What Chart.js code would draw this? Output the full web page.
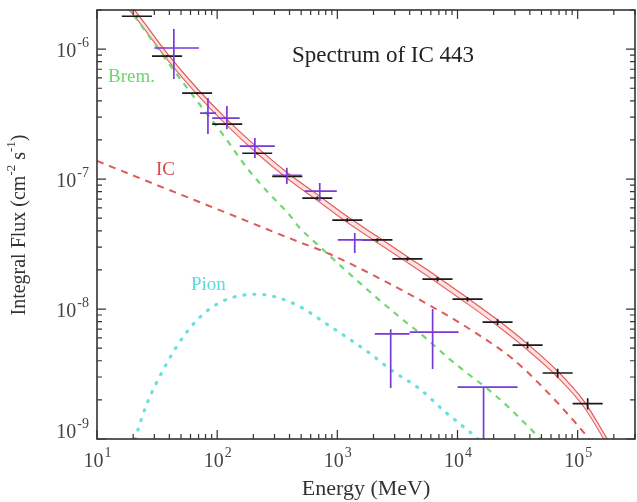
<!DOCTYPE html>
<html><head><meta charset="utf-8">
<script src="https://cdn.jsdelivr.net/npm/chart.js@4.4.1/dist/chart.umd.min.js"></script>
<style>html,body{margin:0;padding:0;background:#fff;overflow:hidden}</style>
</head><body>
<canvas id="c" width="637" height="502"></canvas>
<script>
// ---- axis ranges / tick labels ----
const xMin = 10, xMax = 3e5, yMin = 1e-9, yMax = 2e-6;
const xDecades = [1, 2, 3, 4, 5];
const yDecades = [-9, -8, -7, -6];

// ---- black data (energy bins) ----
const binEdges = [16.1, 28.7, 51.1, 90.8, 161.6, 287, 511, 908, 1616, 2873, 5109, 9085, 16156, 28730, 51090, 90850, 161560];
const blackE = [21.5, 38.3, 68.1, 121, 215, 383, 681, 1211, 2154, 3831, 6813, 12115, 21544, 38312, 68129, 121153];
const blackF = [1.79e-6, 8.84e-7, 4.59e-7, 2.65e-7, 1.58e-7, 1.05e-7, 7.14e-8, 4.84e-8, 3.40e-8, 2.43e-8, 1.70e-8, 1.19e-8, 7.94e-9, 5.28e-9, 3.22e-9, 1.87e-9];
const blackErr = [0.02, 0.02, 0.02, 0.02, 0.02, 0.02, 0.03, 0.03, 0.03, 0.03, 0.04, 0.04, 0.05, 0.06, 0.08, 0.1];

// ---- purple data ----
const pE   = [43.6, 83.8, 120.5, 206, 380, 714, 1396, 2780, 6210, 16480];
const pELo = [30, 72, 91, 154, 290, 535, 1007, 2048, 4000, 10000];
const pEHi = [70.5, 98, 154, 302, 506, 989, 1932, 4000, 10200, 31600];
const pF   = [1.02e-6, 3.22e-7, 2.94e-7, 1.79e-7, 1.07e-7, 8.09e-8, 3.40e-8, 6.43e-9, 6.65e-9, 2.51e-9];
const pFLo = [5.88e-7, 2.22e-7, 2.42e-7, 1.45e-7, 9.16e-8, 6.78e-8, 2.70e-8, 2.47e-9, 3.45e-9, 5e-10];
const pFHi = [1.43e-6, 4.2e-7, 3.65e-7, 2.07e-7, 1.22e-7, 9.31e-8, 3.84e-8, 7.0e-9, 1.0e-8, 2.51e-9];

// ---- total model band ----
const totE  = [15, 19.9, 38.2, 67.8, 120, 214, 379, 674, 1197, 2128, 3777, 6700, 11900, 21100, 37500, 66700, 114000, 173000, 202000];
const totHi = [2.75e-6, 2.07e-6, 9.32e-7, 5.0e-7, 2.89e-7, 1.76e-7, 1.13e-7, 7.66e-8, 5.19e-8, 3.64e-8, 2.55e-8, 1.79e-8, 1.23e-8, 8.37e-9, 5.47e-9, 3.39e-9, 1.93e-9, 1.03e-9, 8.2e-10];
const totLo = [2.47e-6, 1.86e-6, 8.39e-7, 4.51e-7, 2.6e-7, 1.58e-7, 1.02e-7, 6.9e-8, 4.67e-8, 3.27e-8, 2.3e-8, 1.61e-8, 1.11e-8, 7.53e-9, 4.92e-9, 3.05e-9, 1.74e-9, 9.3e-10, 7.4e-10];

// ---- components ----
const bremE = [15, 19.9, 38.2, 67.8, 111, 177, 259, 394, 487, 636, 1268, 2128, 3304, 5540, 8600, 22400, 39700, 53000];
const bremF = [2.5e-6, 1.85e-6, 8.1e-7, 4.0e-7, 2.22e-7, 1.22e-7, 8.09e-8, 5.38e-8, 4.2e-8, 3.33e-8, 1.86e-8, 1.22e-8, 8.67e-9, 5.9e-9, 4.12e-9, 2.03e-9, 1.22e-9, 9.3e-10];
const icE = [10, 26.0, 67.8, 177, 460, 865, 2478, 7100, 12600, 28200, 48100, 110000, 138000];
const icF = [1.38e-7, 9.66e-8, 6.78e-8, 4.75e-8, 3.33e-8, 2.65e-8, 1.64e-8, 9.66e-9, 7.02e-9, 4.2e-9, 2.65e-9, 1.15e-9, 8.8e-10];
const pionE = [19, 20.7, 26.0, 33.4, 46.3, 69.2, 111, 214, 426, 915, 1755, 2890, 4840, 8110, 11000, 14400, 16800];
const pionF = [7e-10, 9.8e-10, 1.86e-9, 3.05e-9, 5.19e-9, 8.37e-9, 1.15e-8, 1.30e-8, 1.11e-8, 7.14e-9, 4.75e-9, 3.33e-9, 2.43e-9, 1.58e-9, 1.26e-9, 1.02e-9, 8.7e-10];

const pts = (xs, ys) => xs.map((v, i) => ({x: v, y: ys[i]}));
const SERIF = '"Liberation Serif", "DejaVu Serif", serif';

function supText(ctx, base, exp, x, y, align, bSize, eSize, color) {
  ctx.fillStyle = color;
  ctx.textBaseline = 'middle';
  ctx.textAlign = 'left';
  ctx.font = bSize + 'px ' + SERIF;
  const wb = ctx.measureText(base).width;
  ctx.font = eSize + 'px ' + SERIF;
  const we = ctx.measureText(exp).width;
  let sx = align === 'center' ? x - (wb + we) / 2 : (align === 'right' ? x - wb - we : x);
  ctx.font = bSize + 'px ' + SERIF;
  ctx.fillText(base, sx, y);
  ctx.font = eSize + 'px ' + SERIF;
  ctx.fillText(exp, sx + wb + 1, y - bSize * 0.42);
}

const deco = {
  id: 'deco',
  afterDatasetsDraw(chart) {
    const {ctx, chartArea: a, scales: {x, y}} = chart;
    ctx.save();
    ctx.beginPath(); ctx.rect(a.left, a.top, a.right - a.left, a.bottom - a.top); ctx.clip();
    // black bins
    ctx.strokeStyle = '#1a1a1a'; ctx.lineWidth = 1.7;
    blackE.forEach((e, k) => {
      const xl = x.getPixelForValue(binEdges[k]), xr = x.getPixelForValue(binEdges[k + 1]);
      const xc = x.getPixelForValue(e), yc = y.getPixelForValue(blackF[k]);
      const y1 = y.getPixelForValue(blackF[k] * (1 + blackErr[k])), y2 = y.getPixelForValue(blackF[k] * (1 - blackErr[k]));
      ctx.beginPath(); ctx.moveTo(xl, yc); ctx.lineTo(xr, yc); ctx.moveTo(xc, y1); ctx.lineTo(xc, y2); ctx.stroke();
    });
    // purple crosses
    ctx.strokeStyle = '#7a3ad8'; ctx.lineWidth = 1.7;
    pE.forEach((e, k) => {
      const xl = x.getPixelForValue(pELo[k]), xr = x.getPixelForValue(pEHi[k]);
      const xc = x.getPixelForValue(e), yc = y.getPixelForValue(pF[k]);
      const y1 = y.getPixelForValue(pFHi[k]), y2 = y.getPixelForValue(pFLo[k]);
      ctx.beginPath(); ctx.moveTo(xl, yc); ctx.lineTo(xr, yc); ctx.moveTo(xc, y1); ctx.lineTo(xc, y2); ctx.stroke();
    });
    ctx.restore();
  },
  afterDraw(chart) {
    const {ctx, chartArea: a, scales: {x, y}} = chart;
    ctx.save();
    // frame
    ctx.strokeStyle = '#333'; ctx.lineWidth = 1.6;
    ctx.strokeRect(a.left, a.top, a.right - a.left, a.bottom - a.top);
    // ticks
    ctx.lineWidth = 1.2;
    ctx.beginPath();
    for (let n = 1; n <= 5; n++) for (let m = 1; m <= 9; m++) {
      const v = m * Math.pow(10, n);
      if (v < xMin || v > xMax) continue;
      const px = x.getPixelForValue(v), L = m === 1 ? 9 : 5;
      ctx.moveTo(px, a.bottom); ctx.lineTo(px, a.bottom - L);
      ctx.moveTo(px, a.top); ctx.lineTo(px, a.top + L);
    }
    for (let n = -9; n <= -6; n++) for (let m = 1; m <= 9; m++) {
      const v = m * Math.pow(10, n);
      if (v < yMin * 0.999 || v > yMax * 1.001) continue;
      const py = y.getPixelForValue(v), L = m === 1 ? 9 : 5;
      ctx.moveTo(a.left, py); ctx.lineTo(a.left + L, py);
      ctx.moveTo(a.right, py); ctx.lineTo(a.right - L, py);
    }
    ctx.stroke();
    // tick labels
    xDecades.forEach(n => {
      const px = x.getPixelForValue(Math.pow(10, n));
      supText(ctx, '10', String(n), px, a.bottom + 23, 'center', 20, 14, '#444');
    });
    yDecades.forEach(n => {
      const py = y.getPixelForValue(Math.pow(10, n));
      const my = Math.min(py + 3, a.bottom - 6);
      supText(ctx, '10', String(n), a.left - 9, my, 'right', 20, 14, '#444');
    });
    // axis titles
    ctx.fillStyle = '#333'; ctx.textBaseline = 'middle'; ctx.textAlign = 'center';
    ctx.font = '22px ' + SERIF;
    ctx.fillText('Energy (MeV)', 366, 489);
    // y title (rotated with superscripts)
    ctx.save();
    ctx.translate(20, 225); ctx.rotate(-Math.PI / 2);
    const parts = [['Integral Flux (cm', 20, 0], ['-2', 13, -8], [' s', 20, 0], ['-1', 13, -8], [')', 20, 0]];
    let tw = 0;
    parts.forEach(p => { ctx.font = p[1] + 'px ' + SERIF; tw += ctx.measureText(p[0]).width; });
    let sx = -tw / 2; ctx.textAlign = 'left';
    parts.forEach(p => { ctx.font = p[1] + 'px ' + SERIF; ctx.fillText(p[0], sx, p[2]); sx += ctx.measureText(p[0]).width; });
    ctx.restore();
    // plot title and component labels
    ctx.textAlign = 'left'; ctx.textBaseline = 'alphabetic';
    ctx.fillStyle = '#222'; ctx.font = '23px ' + SERIF;
    ctx.fillText('Spectrum of IC 443', 292, 62);
    ctx.font = '19px ' + SERIF;
    ctx.fillStyle = '#6ad86a'; ctx.fillText('Brem.', 108, 82);
    ctx.fillStyle = '#d84848'; ctx.fillText('IC', 156, 175);
    ctx.fillStyle = '#55dddd'; ctx.fillText('Pion', 191, 290);
    ctx.restore();
  }
};

new Chart(document.getElementById('c'), {
  type: 'scatter',
  data: {
    datasets: [
      {data: pts(totE, totHi), showLine: true, pointRadius: 0, borderColor: '#e05a5a', borderWidth: 1.2, fill: '+1', backgroundColor: 'rgba(255,170,170,0.35)', cubicInterpolationMode: 'monotone', order: 5},
      {data: pts(totE, totLo), showLine: true, pointRadius: 0, borderColor: '#e05a5a', borderWidth: 1.2, fill: false, cubicInterpolationMode: 'monotone', order: 5},
      {data: pts(icE, icF), showLine: true, pointRadius: 0, borderColor: '#dd5a5a', borderWidth: 2, borderDash: [7, 6], fill: false, cubicInterpolationMode: 'monotone', order: 4},
      {data: pts(pionE, pionF), showLine: true, pointRadius: 0, borderColor: '#6adfdf', borderWidth: 3.2, borderDash: [1, 9], borderCapStyle: 'round', fill: false, cubicInterpolationMode: 'monotone', order: 4},
      {data: pts(bremE, bremF), showLine: true, pointRadius: 0, borderColor: '#70d870', borderWidth: 2.2, borderDash: [6, 6], fill: false, cubicInterpolationMode: 'monotone', order: 3}
    ]
  },
  options: {
    responsive: false,
    animation: false,
    layout: {padding: {left: 97, right: 2, top: 10, bottom: 63}},
    plugins: {legend: {display: false}, tooltip: {enabled: false}},
    scales: {
      x: {type: 'logarithmic', min: xMin, max: xMax, ticks: {display: false}, grid: {display: false}, border: {display: false}, afterFit: s => { s.height = 0; }},
      y: {type: 'logarithmic', min: yMin, max: yMax, ticks: {display: false}, grid: {display: false}, border: {display: false}, afterFit: s => { s.width = 0; }}
    }
  },
  plugins: [deco]
});
</script></body></html>
